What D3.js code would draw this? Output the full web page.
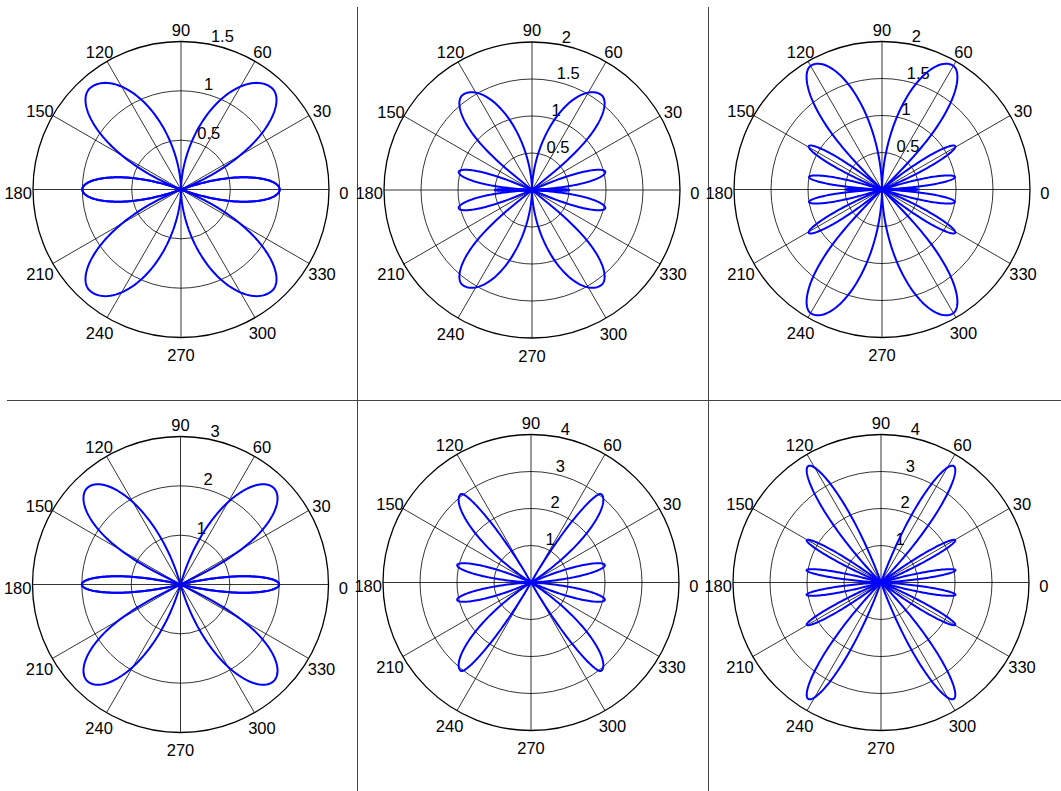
<!DOCTYPE html>
<html>
<head>
<meta charset="utf-8">
<script src="https://cdn.jsdelivr.net/npm/d3@7"></script>
<style>
  body { margin: 0; background: #fff; }
  svg { display: block; }
</style>
</head>
<body>
<svg id="chart" width="1061" height="791"></svg>
<script>
// outer radius of each subplot and ring step
const rMaxList = [1.5, 2, 2, 3, 4, 4];
const rStepList = [0.5, 0.5, 0.5, 1, 1, 1];
const angleTicks = d3.range(0, 360, 30);

// lobes read in the first quadrant: [tip angle, length, start angle, end angle, low side shape, high side shape]
// (every plot is symmetric about both axes, the rest is mirrored)
const lobes1 = [[0, 1.0, -20, 20, 1, 1], [48, 1.38, 22, 90, 0.9, 1.3]];
const lobes2 = [[0, 0.5, -3, 3, 1, 1], [14, 1.02, 4, 23, 0.6, 0.6], [54, 1.59, 39, 90, 0.45, 1.3]];
const lobes3 = [[0, 0.48, -3, 3, 1, 1], [9.7, 1.0, 3, 17, 0.7, 0.7], [30.6, 1.15, 22, 40, 1, 1], [60.4, 1.93, 45, 90, 0.55, 1.2]];
const lobes4 = [[0, 2.0, -13.5, 13.5, 1, 1], [46, 2.72, 26, 74, 0.55, 1]];
const lobes5 = [[13.3, 2.05, 3, 24, 1, 1], [51.5, 3.05, 33, 60, 1, 1]];
const lobes6 = [[9.4, 2.04, 3, 16, 1, 1], [29.7, 2.31, 23, 37, 1, 1], [58, 3.71, 46, 70, 1, 1]];
const lobeList = [lobes1, lobes2, lobes3, lobes4, lobes5, lobes6];

// subplot centres
const centerX = [181, 532, 882, 180.5, 531, 881];
const centerY = [189.5, 190, 189.5, 584.5, 582.5, 582.5];
const R = 148;

const svg = d3.select("#chart");
const font = "'Liberation Sans', Arial, Helvetica, sans-serif";

// panel separators
svg.append("line").attr("x1", 357.5).attr("x2", 357.5).attr("y1", 7).attr("y2", 791)
    .attr("stroke", "#444").attr("stroke-width", 1);
svg.append("line").attr("x1", 708.5).attr("x2", 708.5).attr("y1", 7).attr("y2", 791)
    .attr("stroke", "#444").attr("stroke-width", 1);
svg.append("line").attr("x1", 7).attr("x2", 1061).attr("y1", 400.5).attr("y2", 400.5)
    .attr("stroke", "#444").attr("stroke-width", 1);

function mirror(p) {
    const [a, L, s, e, pl, ph] = p;
    return [
        [a, L, s, e, pl, ph],
        [-a, L, -e, -s, ph, pl],
        [180 - a, L, 180 - e, 180 - s, ph, pl],
        [180 + a, L, 180 + s, 180 + e, pl, ph]
    ];
}

function lobePoints(p) {
    const [a, L, s, e, pl, ph] = p;
    const pts = [];
    const n = 50;
    for (let i = 0; i <= n; i++) {
        const t = s + (a - s) * i / n;
        const u = (a - t) / (a - s);
        pts.push([t, L * Math.pow(Math.max(0, Math.cos(Math.PI / 2 * u)), pl)]);
    }
    for (let i = 1; i <= n; i++) {
        const t = a + (e - a) * i / n;
        const u = (t - a) / (e - a);
        pts.push([t, L * Math.pow(Math.max(0, Math.cos(Math.PI / 2 * u)), ph)]);
    }
    return pts;
}

for (let k = 0; k < 6; k++) {
    const rmax = rMaxList[k], step = rStepList[k];
    const rScale = d3.scaleLinear().domain([0, rmax]).range([0, R]);
    const g = svg.append("g").attr("transform", "translate(" + centerX[k] + "," + centerY[k] + ")");
    const rad = d => d * Math.PI / 180;

    // rings
    const rings = d3.range(step, rmax + step / 2, step);
    g.selectAll("circle.ring").data(rings).enter()
        .append("circle")
        .attr("class", "ring")
        .attr("r", d => rScale(d))
        .attr("fill", "none")
        .attr("stroke", "#000")
        .attr("stroke-width", d => Math.abs(d - rmax) < 1e-9 ? 1.3 : 0.8);

    // spokes
    g.selectAll("line.spoke").data(d3.range(0, 180, 30)).enter()
        .append("line")
        .attr("class", "spoke")
        .attr("x1", d => -rScale(rmax) * Math.cos(rad(d)))
        .attr("y1", d => rScale(rmax) * Math.sin(rad(d)))
        .attr("x2", d => rScale(rmax) * Math.cos(rad(d)))
        .attr("y2", d => -rScale(rmax) * Math.sin(rad(d)))
        .attr("stroke", "#000")
        .attr("stroke-width", 0.8);

    // angle labels
    g.selectAll("text.ang").data(angleTicks).enter()
        .append("text")
        .attr("class", "ang")
        .attr("x", d => rScale(rmax * 1.1) * Math.cos(rad(d)))
        .attr("y", d => -rScale(rmax * 1.1) * Math.sin(rad(d)) + 9)
        .attr("text-anchor", "middle")
        .style("font-family", font)
        .style("font-size", "16.5px")
        .attr("fill", "#000")
        .text(d => d);

    // radial labels
    g.selectAll("text.rad").data(rings).enter()
        .append("text")
        .attr("class", "rad")
        .attr("x", d => rScale(d + step / 20) * Math.cos(rad(82)) + 9)
        .attr("y", d => -rScale(d + step / 20) * Math.sin(rad(82)) + 1)
        .attr("text-anchor", "start")
        .style("font-family", font)
        .style("font-size", "16.5px")
        .attr("fill", "#000")
        .text(d => d);

    // curve lobes
    const line = d3.lineRadial()
        .angle(d => rad(90 - d[0]))
        .radius(d => rScale(d[1]));
    const all = [];
    lobeList[k].forEach(p => mirror(p).forEach(m => all.push(m)));
    g.selectAll("path.lobe").data(all).enter()
        .append("path")
        .attr("class", "lobe")
        .attr("d", d => line(lobePoints(d)) + "Z")
        .attr("fill", "none")
        .attr("stroke", "#0000ff")
        .attr("stroke-width", 2)
        .attr("stroke-linejoin", "round");
}
</script>
</body>
</html>
